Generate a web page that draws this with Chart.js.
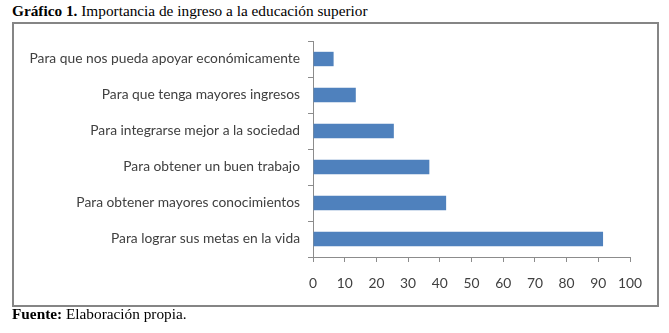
<!DOCTYPE html>
<html>
<head>
<meta charset="utf-8">
<script src="https://cdn.jsdelivr.net/npm/chart.js@4"></script>
<style>
  html, body { margin: 0; padding: 0; background: #fff; }
  body { width: 669px; height: 333px; position: relative; overflow: hidden; }
  .caption { position: absolute; left: 12px; font-family: "Liberation Serif", "Times New Roman", serif; font-size: 15.3px; color: #000; white-space: nowrap; }
  #title { top: 2px; }
  #source { top: 305px; }
  #frame { position: absolute; left: 12px; top: 22px; width: 643px; height: 281px; border: 2px solid #858585; }
  #chart { position: absolute; left: 0; top: 0; }
</style>
</head>
<body>
<div class="caption" id="title"><b>Gráfico 1.</b> Importancia de ingreso a la educación superior</div>
<div id="frame"></div>
<canvas id="chart" width="669" height="333"></canvas>
<div class="caption" id="source"><b>Fuente:</b> Elaboración propia.</div>
<script>
const categories = [
  'Para que nos pueda apoyar económicamente',
  'Para que tenga mayores ingresos',
  'Para integrarse mejor a la sociedad',
  'Para obtener un buen trabajo',
  'Para obtener mayores conocimientos',
  'Para lograr sus metas en la vida',
];
const values = [6.5, 13.5, 25.5, 36.7, 42, 91.5];

const axisColor = '#8c8c8c';
const labelFont = { family: 'Lato, "Noto Sans", sans-serif', size: 13.8 };

new Chart(document.getElementById('chart'), {
  type: 'bar',
  data: {
    labels: categories,
    datasets: [{
      data: values,
      backgroundColor: '#4f81bd',
      borderWidth: 0,
      categoryPercentage: 1,
      barPercentage: 0.4,
    }],
  },
  options: {
    indexAxis: 'y',
    responsive: false,
    animation: false,
    layout: { padding: { top: 41, right: 39, bottom: 36, left: 0 } },
    plugins: { legend: { display: false }, tooltip: { enabled: false } },
    scales: {
      x: {
        min: 0,
        max: 100,
        ticks: { stepSize: 10, color: '#404040', font: labelFont, padding: 13 },
        grid: { drawOnChartArea: false, tickLength: 5, color: axisColor },
        border: { color: axisColor },
        afterFit: scale => { scale.height = 40; },
      },
      y: {
        ticks: { color: '#404040', font: labelFont, padding: 8 },
        grid: { drawOnChartArea: false, tickLength: 5, color: axisColor },
        border: { color: axisColor },
        afterFit: scale => { scale.width = 313; },
      },
    },
  },
});
</script>
</body>
</html>
